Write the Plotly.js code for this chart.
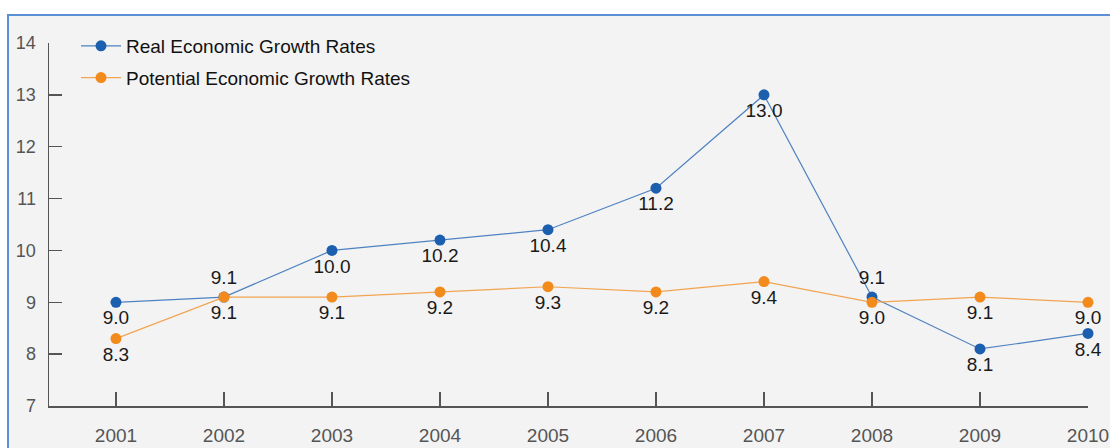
<!DOCTYPE html>
<html><head><meta charset="utf-8">
<script src="https://cdn.plot.ly/plotly-3.0.1.min.js"></script>
<style>html,body{margin:0;padding:0;background:#fff;}#chart{width:1110px;height:448px;}</style>
</head><body><div id="chart"></div>
<script>
const years = [2001,2002,2003,2004,2005,2006,2007,2008,2009,2010];
const realGrowth = [9.0,9.1,10.0,10.2,10.4,11.2,13.0,9.1,8.1,8.4];
const potentialGrowth = [8.3,9.1,9.1,9.2,9.3,9.2,9.4,9.0,9.1,9.0];
const realLabelPos = ['bottom center','top center','bottom center','bottom center','bottom center','bottom center','bottom center','top center','bottom center','bottom center'];
const potentialLabelPos = ['bottom center','bottom center','bottom center','bottom center','bottom center','bottom center','bottom center','bottom center','bottom center','bottom center'];
const yTicks = [7,8,9,10,11,12,13,14];

const F = "Liberation Sans, Arial, sans-serif";
const fmt = v => v.toFixed(1);

const traces = [
  {x: years, y: realGrowth, name: 'Real Economic Growth Rates', mode: 'lines+markers+text',
   legendgroup: 'a',
   line: {color: '#4f82c2', width: 1.2}, marker: {color: '#1b5fae', size: 11},
   text: realGrowth.map(fmt), textposition: realLabelPos,
   textfont: {family: F, size: 19, color: '#1a1a1a'}, cliponaxis: false},
  {x: years, y: potentialGrowth, name: 'Potential Economic Growth Rates', mode: 'lines+markers+text',
   legendgroup: 'b',
   line: {color: '#f2a452', width: 1.2}, marker: {color: '#f28a1c', size: 11},
   text: potentialGrowth.map(fmt), textposition: potentialLabelPos,
   textfont: {family: F, size: 19, color: '#1a1a1a'}, cliponaxis: false}
];

const L = 49, R = 1088, T = 43, B = 406;
const pw = R - L, ph = B - T;
const px = v => (v - L) / pw;
const py = v => (B - v) / ph;

const layout = {
  width: 1110, height: 448,
  margin: {l: L, r: 1110 - R, t: T, b: 448 - B},
  paper_bgcolor: '#ffffff', plot_bgcolor: 'rgba(0,0,0,0)',
  showlegend: true,
  legend: {x: px(76), y: py(27), xanchor: 'left', yanchor: 'top', bgcolor: 'rgba(0,0,0,0)',
           font: {family: F, size: 19, color: '#111'}, traceorder: 'grouped', tracegroupgap: 4, itemwidth: 40},
  xaxis: {range: [2000.38, 2010], tickvals: years, ticktext: years.map(String),
          showgrid: false, zeroline: false, showline: true, linecolor: '#555', linewidth: 1.5,
          ticks: 'inside', ticklen: 14, tickwidth: 1.5, tickcolor: '#555', ticklabelstandoff: 12,
          tickfont: {family: F, size: 19, color: '#555'}, fixedrange: true},
  yaxis: {range: [7, 14], tickvals: yTicks, showgrid: false, zeroline: false,
          showline: true, linecolor: '#555', linewidth: 1.5,
          ticks: 'inside', ticklen: 13, tickwidth: 1.5, tickcolor: '#555', ticklabelstandoff: 8,
          tickfont: {family: F, size: 18, color: '#555'}, fixedrange: true},
  shapes: [
    {type: 'rect', xref: 'paper', yref: 'paper', layer: 'below',
     x0: px(8), x1: px(1130), y0: py(470), y1: py(15),
     fillcolor: '#f3f3f3', line: {color: '#5b8fd6', width: 2}}
  ]
};

Plotly.newPlot('chart', traces, layout, {displayModeBar: false, staticPlot: true});
</script></body></html>
